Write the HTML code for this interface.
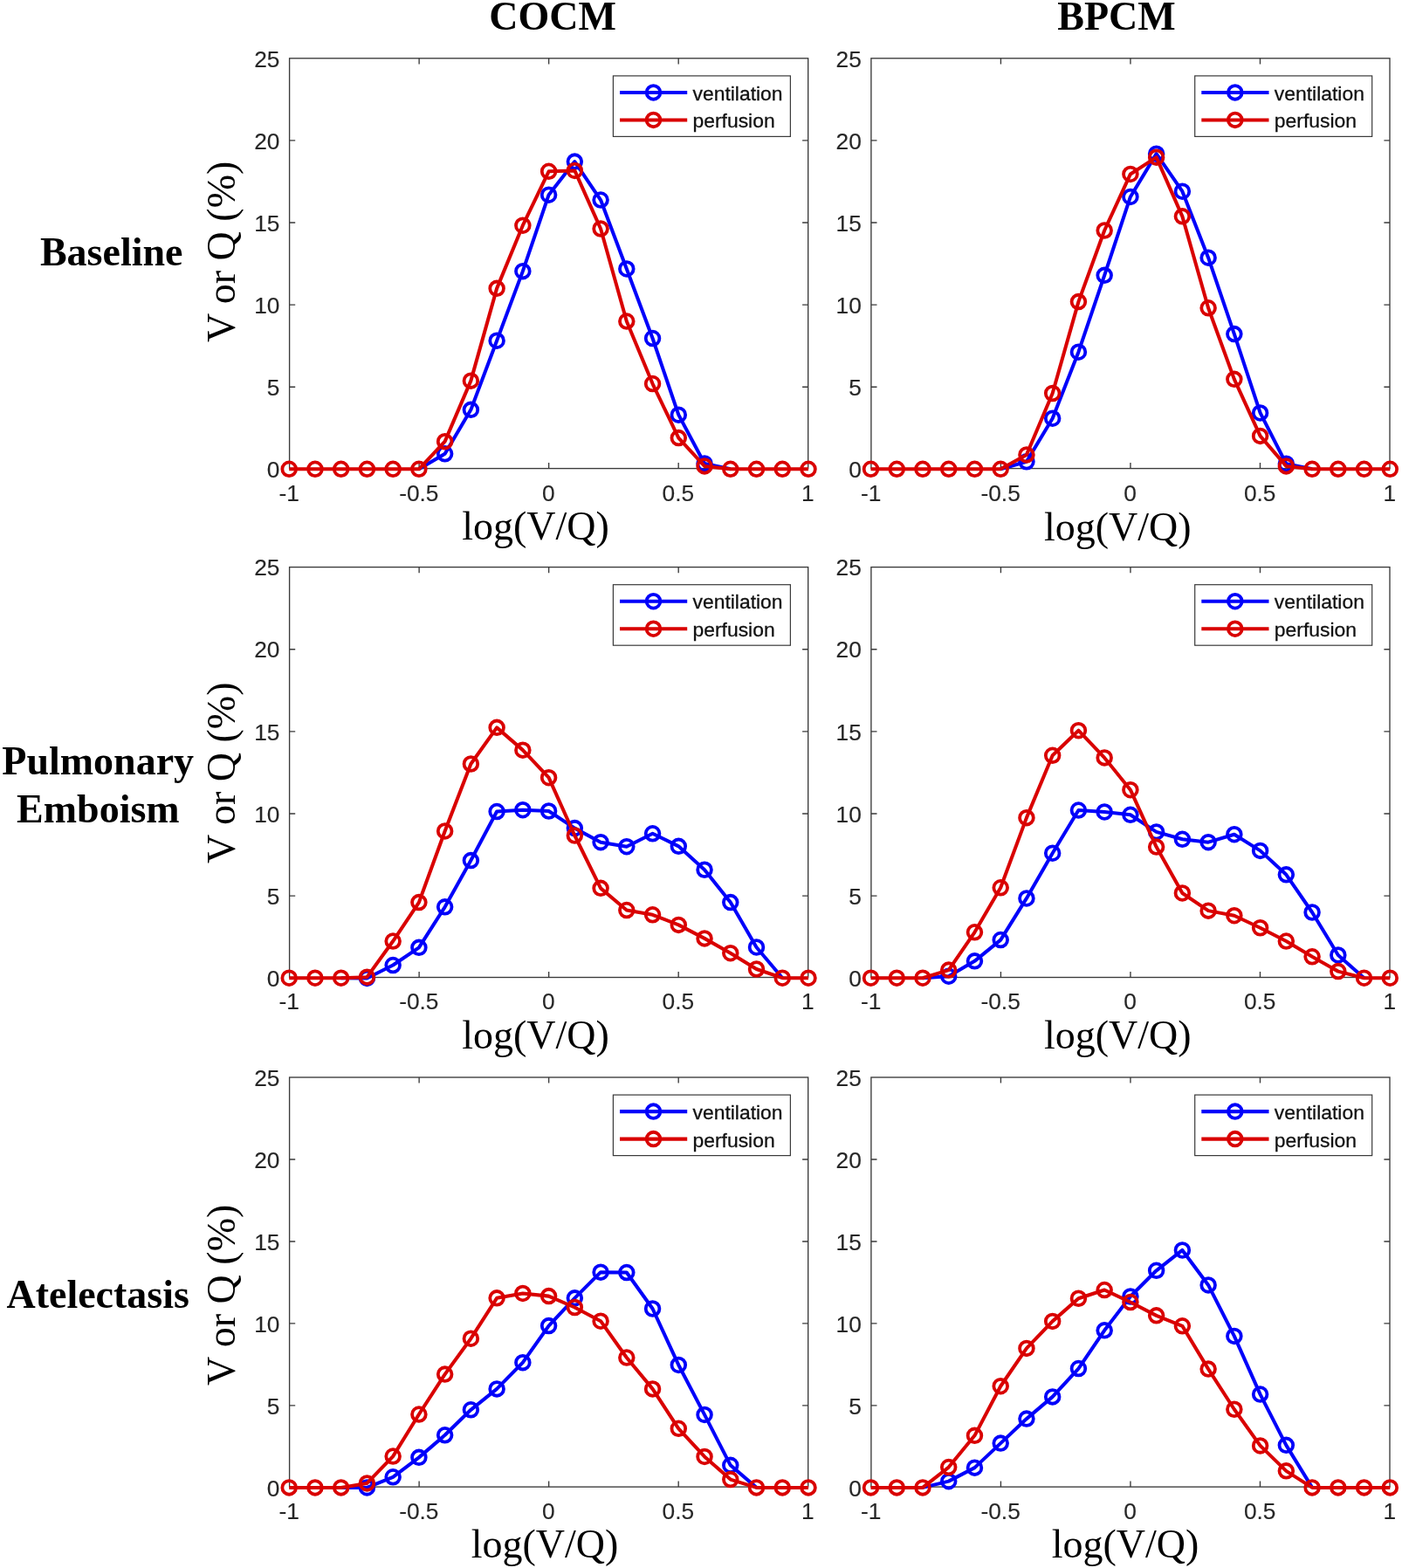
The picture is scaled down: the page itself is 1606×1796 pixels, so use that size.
<!DOCTYPE html>
<html lang="en"><head><meta charset="utf-8"><title>V/Q distributions: COCM vs BPCM</title>
<style>
html,body{margin:0;padding:0;background:#fff;}
body{width:1606px;height:1796px;overflow:hidden;}
svg{display:block;}
.tk{font-family:"Liberation Sans",Arial,Helvetica,sans-serif;font-size:26.3px;fill:#262626;stroke:#262626;stroke-width:0.15px;}
.lg{font-family:"Liberation Sans",Arial,Helvetica,sans-serif;font-size:22.9px;fill:#111;stroke:#111;stroke-width:0.3px;}
.sr{font-family:"Liberation Serif","Times New Roman",Times,serif;font-size:46px;fill:#000;}
.sb{font-family:"Liberation Serif","Times New Roman",Times,serif;font-size:46px;font-weight:bold;fill:#000;}
.ax{fill:none;stroke:#3a3a3a;stroke-width:1.35;}
.bl{fill:none;stroke:#0000fa;stroke-width:4.05;stroke-linejoin:round;stroke-linecap:butt;}
.rl{fill:none;stroke:#d90000;stroke-width:4.05;stroke-linejoin:round;stroke-linecap:butt;}
.bm circle{fill:none;stroke:#0000fa;stroke-width:3.8;}
.rm circle{fill:none;stroke:#d90000;stroke-width:3.8;}
</style></head><body>
<svg width="1606" height="1796" viewBox="0 0 1606 1796" role="img" aria-label="Ventilation and perfusion distributions versus log(V/Q) for COCM and BPCM">
<rect x="0" y="0" width="1606" height="1796" fill="#fff"/>
<text class="sb" x="633.1" y="34.2" text-anchor="middle">COCM</text>
<text class="sb" x="1279" y="34.2" text-anchor="middle">BPCM</text>
<text class="sb" x="127.7" y="304.4" text-anchor="middle">Baseline</text>
<text class="sr" transform="translate(268.9 288.4) rotate(-90)" text-anchor="middle">V or Q (%)</text>
<text class="sb" x="112.2" y="886.5" text-anchor="middle">Pulmonary</text>
<text class="sb" x="112.4" y="942.2" text-anchor="middle">Emboism</text>
<text class="sr" transform="translate(268.9 885.2) rotate(-90)" text-anchor="middle">V or Q (%)</text>
<text class="sb" x="112.2" y="1497.7" text-anchor="middle">Atelectasis</text>
<text class="sr" transform="translate(268.9 1483.4) rotate(-90)" text-anchor="middle">V or Q (%)</text>
<g>
<rect class="ax" x="331.6" y="66.8" width="594.1" height="469.8"/>
<path class="ax" d="M480.12 536.6v-6.6M480.12 66.8v6.6M628.65 536.6v-6.6M628.65 66.8v6.6M777.18 536.6v-6.6M777.18 66.8v6.6M331.6 443.2h6.6M925.7 443.2h-6.6M331.6 349.1h6.6M925.7 349.1h-6.6M331.6 255h6.6M925.7 255h-6.6M331.6 160.9h6.6M925.7 160.9h-6.6"/>
<text class="tk" x="331.3" y="573.9" text-anchor="middle">-1</text>
<text class="tk" x="479.82" y="573.9" text-anchor="middle">-0.5</text>
<text class="tk" x="628.35" y="573.9" text-anchor="middle">0</text>
<text class="tk" x="776.88" y="573.9" text-anchor="middle">0.5</text>
<text class="tk" x="925.4" y="573.9" text-anchor="middle">1</text>
<text class="tk" x="320.5" y="547" text-anchor="end">0</text>
<text class="tk" x="320.5" y="452.9" text-anchor="end">5</text>
<text class="tk" x="320.5" y="358.8" text-anchor="end">10</text>
<text class="tk" x="320.5" y="264.7" text-anchor="end">15</text>
<text class="tk" x="320.5" y="170.6" text-anchor="end">20</text>
<text class="tk" x="320.5" y="76.5" text-anchor="end">25</text>
<text class="sr" x="613.6" y="617.8" text-anchor="middle">log(V/Q)</text>
<path class="bl" d="M479.9 537.3L509.64 519.78L539.38 469.34L569.12 390.21L598.86 310.64L628.6 223.21L658.34 185.11L688.08 229.04L717.82 307.95L747.56 387.52L777.3 475.17L807.04 530.98L836.78 537.3"/>
<g class="bm"><circle cx="509.64" cy="519.78" r="7.85"/><circle cx="539.38" cy="469.34" r="7.85"/><circle cx="569.12" cy="390.21" r="7.85"/><circle cx="598.86" cy="310.64" r="7.85"/><circle cx="628.6" cy="223.21" r="7.85"/><circle cx="658.34" cy="185.11" r="7.85"/><circle cx="688.08" cy="229.04" r="7.85"/><circle cx="717.82" cy="307.95" r="7.85"/><circle cx="747.56" cy="387.52" r="7.85"/><circle cx="777.3" cy="475.17" r="7.85"/><circle cx="807.04" cy="530.98" r="7.85"/></g>
<polyline class="rl" points="331.2,537.3 360.94,537.3 390.68,537.3 420.42,537.3 450.16,537.3 479.9,537.3 509.64,505.65 539.38,436.16 569.12,330.36 598.86,258.18 628.6,196.31 658.34,195.42 688.08,261.99 717.82,368.02 747.56,439.53 777.3,501.62 807.04,533.9 836.78,537.3 866.52,537.3 896.26,537.3 926,537.3"/>
<g class="rm"><circle cx="331.2" cy="537.3" r="7.85"/><circle cx="360.94" cy="537.3" r="7.85"/><circle cx="390.68" cy="537.3" r="7.85"/><circle cx="420.42" cy="537.3" r="7.85"/><circle cx="450.16" cy="537.3" r="7.85"/><circle cx="479.9" cy="537.3" r="7.85"/><circle cx="509.64" cy="505.65" r="7.85"/><circle cx="539.38" cy="436.16" r="7.85"/><circle cx="569.12" cy="330.36" r="7.85"/><circle cx="598.86" cy="258.18" r="7.85"/><circle cx="628.6" cy="196.31" r="7.85"/><circle cx="658.34" cy="195.42" r="7.85"/><circle cx="688.08" cy="261.99" r="7.85"/><circle cx="717.82" cy="368.02" r="7.85"/><circle cx="747.56" cy="439.53" r="7.85"/><circle cx="777.3" cy="501.62" r="7.85"/><circle cx="807.04" cy="533.9" r="7.85"/><circle cx="836.78" cy="537.3" r="7.85"/><circle cx="866.52" cy="537.3" r="7.85"/><circle cx="896.26" cy="537.3" r="7.85"/><circle cx="926" cy="537.3" r="7.85"/></g>
<rect x="702.4" y="86.9" width="203" height="69.5" fill="#fff" stroke="#3a3a3a" stroke-width="1.2"/>
<path class="bl" d="M710 105.9H787.2"/>
<g class="bm"><circle cx="748.5" cy="105.9" r="7.85"/></g>
<text class="lg" x="793.5" y="114.5">ventilation</text>
<path class="rl" d="M710 137.4H787.2"/>
<g class="rm"><circle cx="748.5" cy="137.4" r="7.85"/></g>
<text class="lg" x="793.5" y="146.4">perfusion</text>
</g>
<g>
<rect class="ax" x="997.9" y="66.8" width="594.1" height="469.8"/>
<path class="ax" d="M1146.42 536.6v-6.6M1146.42 66.8v6.6M1294.95 536.6v-6.6M1294.95 66.8v6.6M1443.47 536.6v-6.6M1443.47 66.8v6.6M997.9 443.2h6.6M1592 443.2h-6.6M997.9 349.1h6.6M1592 349.1h-6.6M997.9 255h6.6M1592 255h-6.6M997.9 160.9h6.6M1592 160.9h-6.6"/>
<text class="tk" x="997.6" y="573.9" text-anchor="middle">-1</text>
<text class="tk" x="1146.12" y="573.9" text-anchor="middle">-0.5</text>
<text class="tk" x="1294.65" y="573.9" text-anchor="middle">0</text>
<text class="tk" x="1443.17" y="573.9" text-anchor="middle">0.5</text>
<text class="tk" x="1591.7" y="573.9" text-anchor="middle">1</text>
<text class="tk" x="986.8" y="547" text-anchor="end">0</text>
<text class="tk" x="986.8" y="452.9" text-anchor="end">5</text>
<text class="tk" x="986.8" y="358.8" text-anchor="end">10</text>
<text class="tk" x="986.8" y="264.7" text-anchor="end">15</text>
<text class="tk" x="986.8" y="170.6" text-anchor="end">20</text>
<text class="tk" x="986.8" y="76.5" text-anchor="end">25</text>
<text class="sr" x="1280.2" y="618.6" text-anchor="middle">log(V/Q)</text>
<path class="bl" d="M1146.2 537.3L1175.94 528.74L1205.68 479.2L1235.42 403.21L1265.16 315.34L1294.9 225.45L1324.64 176.14L1354.38 219.18L1384.12 295.17L1413.86 382.59L1443.6 472.93L1473.34 531.21L1503.08 537.3"/>
<g class="bm"><circle cx="1175.94" cy="528.74" r="7.85"/><circle cx="1205.68" cy="479.2" r="7.85"/><circle cx="1235.42" cy="403.21" r="7.85"/><circle cx="1265.16" cy="315.34" r="7.85"/><circle cx="1294.9" cy="225.45" r="7.85"/><circle cx="1324.64" cy="176.14" r="7.85"/><circle cx="1354.38" cy="219.18" r="7.85"/><circle cx="1384.12" cy="295.17" r="7.85"/><circle cx="1413.86" cy="382.59" r="7.85"/><circle cx="1443.6" cy="472.93" r="7.85"/><circle cx="1473.34" cy="531.21" r="7.85"/></g>
<polyline class="rl" points="997.5,537.3 1027.24,537.3 1056.98,537.3 1086.72,537.3 1116.46,537.3 1146.2,537.3 1175.94,520.9 1205.68,450.51 1235.42,345.6 1265.16,264.01 1294.9,199.45 1324.64,180.17 1354.38,247.87 1384.12,352.78 1413.86,434.37 1443.6,499.38 1473.34,533.9 1503.08,537.3 1532.82,537.3 1562.56,537.3 1592.3,537.3"/>
<g class="rm"><circle cx="997.5" cy="537.3" r="7.85"/><circle cx="1027.24" cy="537.3" r="7.85"/><circle cx="1056.98" cy="537.3" r="7.85"/><circle cx="1086.72" cy="537.3" r="7.85"/><circle cx="1116.46" cy="537.3" r="7.85"/><circle cx="1146.2" cy="537.3" r="7.85"/><circle cx="1175.94" cy="520.9" r="7.85"/><circle cx="1205.68" cy="450.51" r="7.85"/><circle cx="1235.42" cy="345.6" r="7.85"/><circle cx="1265.16" cy="264.01" r="7.85"/><circle cx="1294.9" cy="199.45" r="7.85"/><circle cx="1324.64" cy="180.17" r="7.85"/><circle cx="1354.38" cy="247.87" r="7.85"/><circle cx="1384.12" cy="352.78" r="7.85"/><circle cx="1413.86" cy="434.37" r="7.85"/><circle cx="1443.6" cy="499.38" r="7.85"/><circle cx="1473.34" cy="533.9" r="7.85"/><circle cx="1503.08" cy="537.3" r="7.85"/><circle cx="1532.82" cy="537.3" r="7.85"/><circle cx="1562.56" cy="537.3" r="7.85"/><circle cx="1592.3" cy="537.3" r="7.85"/></g>
<rect x="1368.7" y="86.9" width="203" height="69.5" fill="#fff" stroke="#3a3a3a" stroke-width="1.2"/>
<path class="bl" d="M1376.3 105.9H1453.5"/>
<g class="bm"><circle cx="1414.8" cy="105.9" r="7.85"/></g>
<text class="lg" x="1459.8" y="114.5">ventilation</text>
<path class="rl" d="M1376.3 137.4H1453.5"/>
<g class="rm"><circle cx="1414.8" cy="137.4" r="7.85"/></g>
<text class="lg" x="1459.8" y="146.4">perfusion</text>
</g>
<g>
<rect class="ax" x="331.6" y="649.6" width="594.1" height="469.9"/>
<path class="ax" d="M480.12 1119.5v-6.6M480.12 649.6v6.6M628.65 1119.5v-6.6M628.65 649.6v6.6M777.18 1119.5v-6.6M777.18 649.6v6.6M331.6 1026.08h6.6M925.7 1026.08h-6.6M331.6 931.96h6.6M925.7 931.96h-6.6M331.6 837.84h6.6M925.7 837.84h-6.6M331.6 743.72h6.6M925.7 743.72h-6.6"/>
<text class="tk" x="331.3" y="1156.3" text-anchor="middle">-1</text>
<text class="tk" x="479.82" y="1156.3" text-anchor="middle">-0.5</text>
<text class="tk" x="628.35" y="1156.3" text-anchor="middle">0</text>
<text class="tk" x="776.88" y="1156.3" text-anchor="middle">0.5</text>
<text class="tk" x="925.4" y="1156.3" text-anchor="middle">1</text>
<text class="tk" x="320.5" y="1129.9" text-anchor="end">0</text>
<text class="tk" x="320.5" y="1035.78" text-anchor="end">5</text>
<text class="tk" x="320.5" y="941.66" text-anchor="end">10</text>
<text class="tk" x="320.5" y="847.54" text-anchor="end">15</text>
<text class="tk" x="320.5" y="753.42" text-anchor="end">20</text>
<text class="tk" x="320.5" y="659.3" text-anchor="end">25</text>
<text class="sr" x="613.6" y="1201" text-anchor="middle">log(V/Q)</text>
<path class="bl" d="M390.68 1120.2L420.42 1120.46L450.16 1105.52L479.9 1085.34L509.64 1038.83L539.38 985.59L569.12 929.55L598.86 927.68L628.6 928.99L658.34 948.61L688.08 964.67L717.82 969.71L747.56 954.77L777.3 969.34L807.04 996.24L836.78 1033.6L866.52 1084.97L896.26 1120.2"/>
<g class="bm"><circle cx="420.42" cy="1120.46" r="7.85"/><circle cx="450.16" cy="1105.52" r="7.85"/><circle cx="479.9" cy="1085.34" r="7.85"/><circle cx="509.64" cy="1038.83" r="7.85"/><circle cx="539.38" cy="985.59" r="7.85"/><circle cx="569.12" cy="929.55" r="7.85"/><circle cx="598.86" cy="927.68" r="7.85"/><circle cx="628.6" cy="928.99" r="7.85"/><circle cx="658.34" cy="948.61" r="7.85"/><circle cx="688.08" cy="964.67" r="7.85"/><circle cx="717.82" cy="969.71" r="7.85"/><circle cx="747.56" cy="954.77" r="7.85"/><circle cx="777.3" cy="969.34" r="7.85"/><circle cx="807.04" cy="996.24" r="7.85"/><circle cx="836.78" cy="1033.6" r="7.85"/><circle cx="866.52" cy="1084.97" r="7.85"/></g>
<polyline class="rl" points="331.2,1120.2 360.94,1120.2 390.68,1120.2 420.42,1119.15 450.16,1078.06 479.9,1033.6 509.64,951.97 539.38,875.01 569.12,833.35 598.86,859.13 628.6,890.7 658.34,957.01 688.08,1017.35 717.82,1042.57 747.56,1047.8 777.3,1059.38 807.04,1074.88 836.78,1091.69 866.52,1110 896.26,1120.2 926,1120.2"/>
<g class="rm"><circle cx="331.2" cy="1120.2" r="7.85"/><circle cx="360.94" cy="1120.2" r="7.85"/><circle cx="390.68" cy="1120.2" r="7.85"/><circle cx="420.42" cy="1119.15" r="7.85"/><circle cx="450.16" cy="1078.06" r="7.85"/><circle cx="479.9" cy="1033.6" r="7.85"/><circle cx="509.64" cy="951.97" r="7.85"/><circle cx="539.38" cy="875.01" r="7.85"/><circle cx="569.12" cy="833.35" r="7.85"/><circle cx="598.86" cy="859.13" r="7.85"/><circle cx="628.6" cy="890.7" r="7.85"/><circle cx="658.34" cy="957.01" r="7.85"/><circle cx="688.08" cy="1017.35" r="7.85"/><circle cx="717.82" cy="1042.57" r="7.85"/><circle cx="747.56" cy="1047.8" r="7.85"/><circle cx="777.3" cy="1059.38" r="7.85"/><circle cx="807.04" cy="1074.88" r="7.85"/><circle cx="836.78" cy="1091.69" r="7.85"/><circle cx="866.52" cy="1110" r="7.85"/><circle cx="896.26" cy="1120.2" r="7.85"/><circle cx="926" cy="1120.2" r="7.85"/></g>
<rect x="702.4" y="669.7" width="203" height="69.5" fill="#fff" stroke="#3a3a3a" stroke-width="1.2"/>
<path class="bl" d="M710 688.7H787.2"/>
<g class="bm"><circle cx="748.5" cy="688.7" r="7.85"/></g>
<text class="lg" x="793.5" y="697.3">ventilation</text>
<path class="rl" d="M710 720.2H787.2"/>
<g class="rm"><circle cx="748.5" cy="720.2" r="7.85"/></g>
<text class="lg" x="793.5" y="729.2">perfusion</text>
</g>
<g>
<rect class="ax" x="997.9" y="649.6" width="594.1" height="469.9"/>
<path class="ax" d="M1146.42 1119.5v-6.6M1146.42 649.6v6.6M1294.95 1119.5v-6.6M1294.95 649.6v6.6M1443.47 1119.5v-6.6M1443.47 649.6v6.6M997.9 1026.08h6.6M1592 1026.08h-6.6M997.9 931.96h6.6M1592 931.96h-6.6M997.9 837.84h6.6M1592 837.84h-6.6M997.9 743.72h6.6M1592 743.72h-6.6"/>
<text class="tk" x="997.6" y="1156.3" text-anchor="middle">-1</text>
<text class="tk" x="1146.12" y="1156.3" text-anchor="middle">-0.5</text>
<text class="tk" x="1294.65" y="1156.3" text-anchor="middle">0</text>
<text class="tk" x="1443.17" y="1156.3" text-anchor="middle">0.5</text>
<text class="tk" x="1591.7" y="1156.3" text-anchor="middle">1</text>
<text class="tk" x="986.8" y="1129.9" text-anchor="end">0</text>
<text class="tk" x="986.8" y="1035.78" text-anchor="end">5</text>
<text class="tk" x="986.8" y="941.66" text-anchor="end">10</text>
<text class="tk" x="986.8" y="847.54" text-anchor="end">15</text>
<text class="tk" x="986.8" y="753.42" text-anchor="end">20</text>
<text class="tk" x="986.8" y="659.3" text-anchor="end">25</text>
<text class="sr" x="1280.2" y="1201" text-anchor="middle">log(V/Q)</text>
<path class="bl" d="M1056.98 1120.2L1086.72 1118.22L1116.46 1100.85L1146.2 1076.56L1175.94 1028.93L1205.68 977.19L1235.42 928.06L1265.16 929.93L1294.9 933.29L1324.64 952.9L1354.38 961.31L1384.12 964.67L1413.86 955.7L1443.6 974.38L1473.34 1001.84L1503.08 1044.99L1532.82 1093.94L1562.56 1120.2"/>
<g class="bm"><circle cx="1086.72" cy="1118.22" r="7.85"/><circle cx="1116.46" cy="1100.85" r="7.85"/><circle cx="1146.2" cy="1076.56" r="7.85"/><circle cx="1175.94" cy="1028.93" r="7.85"/><circle cx="1205.68" cy="977.19" r="7.85"/><circle cx="1235.42" cy="928.06" r="7.85"/><circle cx="1265.16" cy="929.93" r="7.85"/><circle cx="1294.9" cy="933.29" r="7.85"/><circle cx="1324.64" cy="952.9" r="7.85"/><circle cx="1354.38" cy="961.31" r="7.85"/><circle cx="1384.12" cy="964.67" r="7.85"/><circle cx="1413.86" cy="955.7" r="7.85"/><circle cx="1443.6" cy="974.38" r="7.85"/><circle cx="1473.34" cy="1001.84" r="7.85"/><circle cx="1503.08" cy="1044.99" r="7.85"/><circle cx="1532.82" cy="1093.94" r="7.85"/></g>
<polyline class="rl" points="997.5,1120.2 1027.24,1120.2 1056.98,1120.2 1086.72,1111.12 1116.46,1067.78 1146.2,1016.79 1175.94,936.65 1205.68,865.29 1235.42,836.71 1265.16,867.91 1294.9,904.71 1324.64,970.09 1354.38,1022.95 1384.12,1043.13 1413.86,1048.73 1443.6,1062.74 1473.34,1078.06 1503.08,1095.8 1532.82,1112.62 1562.56,1120.2 1592.3,1120.2"/>
<g class="rm"><circle cx="997.5" cy="1120.2" r="7.85"/><circle cx="1027.24" cy="1120.2" r="7.85"/><circle cx="1056.98" cy="1120.2" r="7.85"/><circle cx="1086.72" cy="1111.12" r="7.85"/><circle cx="1116.46" cy="1067.78" r="7.85"/><circle cx="1146.2" cy="1016.79" r="7.85"/><circle cx="1175.94" cy="936.65" r="7.85"/><circle cx="1205.68" cy="865.29" r="7.85"/><circle cx="1235.42" cy="836.71" r="7.85"/><circle cx="1265.16" cy="867.91" r="7.85"/><circle cx="1294.9" cy="904.71" r="7.85"/><circle cx="1324.64" cy="970.09" r="7.85"/><circle cx="1354.38" cy="1022.95" r="7.85"/><circle cx="1384.12" cy="1043.13" r="7.85"/><circle cx="1413.86" cy="1048.73" r="7.85"/><circle cx="1443.6" cy="1062.74" r="7.85"/><circle cx="1473.34" cy="1078.06" r="7.85"/><circle cx="1503.08" cy="1095.8" r="7.85"/><circle cx="1532.82" cy="1112.62" r="7.85"/><circle cx="1562.56" cy="1120.2" r="7.85"/><circle cx="1592.3" cy="1120.2" r="7.85"/></g>
<rect x="1368.7" y="669.7" width="203" height="69.5" fill="#fff" stroke="#3a3a3a" stroke-width="1.2"/>
<path class="bl" d="M1376.3 688.7H1453.5"/>
<g class="bm"><circle cx="1414.8" cy="688.7" r="7.85"/></g>
<text class="lg" x="1459.8" y="697.3">ventilation</text>
<path class="rl" d="M1376.3 720.2H1453.5"/>
<g class="rm"><circle cx="1414.8" cy="720.2" r="7.85"/></g>
<text class="lg" x="1459.8" y="729.2">perfusion</text>
</g>
<g>
<rect class="ax" x="331.6" y="1234" width="594.1" height="469.1"/>
<path class="ax" d="M480.12 1703.1v-6.6M480.12 1234v6.6M628.65 1703.1v-6.6M628.65 1234v6.6M777.18 1703.1v-6.6M777.18 1234v6.6M331.6 1609.92h6.6M925.7 1609.92h-6.6M331.6 1515.94h6.6M925.7 1515.94h-6.6M331.6 1421.96h6.6M925.7 1421.96h-6.6M331.6 1327.98h6.6M925.7 1327.98h-6.6"/>
<text class="tk" x="331.3" y="1739.6" text-anchor="middle">-1</text>
<text class="tk" x="479.82" y="1739.6" text-anchor="middle">-0.5</text>
<text class="tk" x="628.35" y="1739.6" text-anchor="middle">0</text>
<text class="tk" x="776.88" y="1739.6" text-anchor="middle">0.5</text>
<text class="tk" x="925.4" y="1739.6" text-anchor="middle">1</text>
<text class="tk" x="320.5" y="1713.6" text-anchor="end">0</text>
<text class="tk" x="320.5" y="1619.62" text-anchor="end">5</text>
<text class="tk" x="320.5" y="1525.64" text-anchor="end">10</text>
<text class="tk" x="320.5" y="1431.66" text-anchor="end">15</text>
<text class="tk" x="320.5" y="1337.68" text-anchor="end">20</text>
<text class="tk" x="320.5" y="1243.7" text-anchor="end">25</text>
<text class="sr" x="624.1" y="1784" text-anchor="middle">log(V/Q)</text>
<path class="bl" d="M390.68 1703.9L420.42 1703.92L450.16 1691.78L479.9 1669.36L509.64 1643.77L539.38 1614.82L569.12 1590.91L598.86 1560.65L628.6 1518.62L658.34 1486.86L688.08 1457.16L717.82 1457.53L747.56 1499L777.3 1563.45L807.04 1620.42L836.78 1678.33L866.52 1703.9"/>
<g class="bm"><circle cx="420.42" cy="1703.92" r="7.85"/><circle cx="450.16" cy="1691.78" r="7.85"/><circle cx="479.9" cy="1669.36" r="7.85"/><circle cx="509.64" cy="1643.77" r="7.85"/><circle cx="539.38" cy="1614.82" r="7.85"/><circle cx="569.12" cy="1590.91" r="7.85"/><circle cx="598.86" cy="1560.65" r="7.85"/><circle cx="628.6" cy="1518.62" r="7.85"/><circle cx="658.34" cy="1486.86" r="7.85"/><circle cx="688.08" cy="1457.16" r="7.85"/><circle cx="717.82" cy="1457.53" r="7.85"/><circle cx="747.56" cy="1499" r="7.85"/><circle cx="777.3" cy="1563.45" r="7.85"/><circle cx="807.04" cy="1620.42" r="7.85"/><circle cx="836.78" cy="1678.33" r="7.85"/></g>
<polyline class="rl" points="331.2,1703.9 360.94,1703.9 390.68,1703.9 420.42,1698.88 450.16,1668.06 479.9,1620.05 509.64,1574.1 539.38,1533.19 569.12,1486.86 598.86,1481.44 628.6,1484.62 658.34,1497.51 688.08,1513.2 717.82,1555.04 747.56,1590.91 777.3,1636.3 807.04,1668.43 836.78,1694.58 866.52,1703.9 896.26,1703.9 926,1703.9"/>
<g class="rm"><circle cx="331.2" cy="1703.9" r="7.85"/><circle cx="360.94" cy="1703.9" r="7.85"/><circle cx="390.68" cy="1703.9" r="7.85"/><circle cx="420.42" cy="1698.88" r="7.85"/><circle cx="450.16" cy="1668.06" r="7.85"/><circle cx="479.9" cy="1620.05" r="7.85"/><circle cx="509.64" cy="1574.1" r="7.85"/><circle cx="539.38" cy="1533.19" r="7.85"/><circle cx="569.12" cy="1486.86" r="7.85"/><circle cx="598.86" cy="1481.44" r="7.85"/><circle cx="628.6" cy="1484.62" r="7.85"/><circle cx="658.34" cy="1497.51" r="7.85"/><circle cx="688.08" cy="1513.2" r="7.85"/><circle cx="717.82" cy="1555.04" r="7.85"/><circle cx="747.56" cy="1590.91" r="7.85"/><circle cx="777.3" cy="1636.3" r="7.85"/><circle cx="807.04" cy="1668.43" r="7.85"/><circle cx="836.78" cy="1694.58" r="7.85"/><circle cx="866.52" cy="1703.9" r="7.85"/><circle cx="896.26" cy="1703.9" r="7.85"/><circle cx="926" cy="1703.9" r="7.85"/></g>
<rect x="702.4" y="1254.1" width="203" height="69.5" fill="#fff" stroke="#3a3a3a" stroke-width="1.2"/>
<path class="bl" d="M710 1273.1H787.2"/>
<g class="bm"><circle cx="748.5" cy="1273.1" r="7.85"/></g>
<text class="lg" x="793.5" y="1281.7">ventilation</text>
<path class="rl" d="M710 1304.6H787.2"/>
<g class="rm"><circle cx="748.5" cy="1304.6" r="7.85"/></g>
<text class="lg" x="793.5" y="1313.6">perfusion</text>
</g>
<g>
<rect class="ax" x="997.9" y="1234" width="594.1" height="469.1"/>
<path class="ax" d="M1146.42 1703.1v-6.6M1146.42 1234v6.6M1294.95 1703.1v-6.6M1294.95 1234v6.6M1443.47 1703.1v-6.6M1443.47 1234v6.6M997.9 1609.92h6.6M1592 1609.92h-6.6M997.9 1515.94h6.6M1592 1515.94h-6.6M997.9 1421.96h6.6M1592 1421.96h-6.6M997.9 1327.98h6.6M1592 1327.98h-6.6"/>
<text class="tk" x="997.6" y="1739.6" text-anchor="middle">-1</text>
<text class="tk" x="1146.12" y="1739.6" text-anchor="middle">-0.5</text>
<text class="tk" x="1294.65" y="1739.6" text-anchor="middle">0</text>
<text class="tk" x="1443.17" y="1739.6" text-anchor="middle">0.5</text>
<text class="tk" x="1591.7" y="1739.6" text-anchor="middle">1</text>
<text class="tk" x="986.8" y="1713.6" text-anchor="end">0</text>
<text class="tk" x="986.8" y="1619.62" text-anchor="end">5</text>
<text class="tk" x="986.8" y="1525.64" text-anchor="end">10</text>
<text class="tk" x="986.8" y="1431.66" text-anchor="end">15</text>
<text class="tk" x="986.8" y="1337.68" text-anchor="end">20</text>
<text class="tk" x="986.8" y="1243.7" text-anchor="end">25</text>
<text class="sr" x="1289" y="1784" text-anchor="middle">log(V/Q)</text>
<path class="bl" d="M1056.98 1703.9L1086.72 1696.64L1116.46 1681.13L1146.2 1653.11L1175.94 1625.09L1205.68 1599.88L1235.42 1567.56L1265.16 1523.85L1294.9 1484.99L1324.64 1455.29L1354.38 1431.94L1384.12 1471.92L1413.86 1530.39L1443.6 1597.07L1473.34 1655.35L1503.08 1703.9"/>
<g class="bm"><circle cx="1086.72" cy="1696.64" r="7.85"/><circle cx="1116.46" cy="1681.13" r="7.85"/><circle cx="1146.2" cy="1653.11" r="7.85"/><circle cx="1175.94" cy="1625.09" r="7.85"/><circle cx="1205.68" cy="1599.88" r="7.85"/><circle cx="1235.42" cy="1567.56" r="7.85"/><circle cx="1265.16" cy="1523.85" r="7.85"/><circle cx="1294.9" cy="1484.99" r="7.85"/><circle cx="1324.64" cy="1455.29" r="7.85"/><circle cx="1354.38" cy="1431.94" r="7.85"/><circle cx="1384.12" cy="1471.92" r="7.85"/><circle cx="1413.86" cy="1530.39" r="7.85"/><circle cx="1443.6" cy="1597.07" r="7.85"/><circle cx="1473.34" cy="1655.35" r="7.85"/></g>
<polyline class="rl" points="997.5,1703.9 1027.24,1703.9 1056.98,1703.9 1086.72,1680.57 1116.46,1644.33 1146.2,1587.73 1175.94,1544.4 1205.68,1513.39 1235.42,1487.24 1265.16,1477.52 1294.9,1491.53 1324.64,1506.85 1354.38,1518.8 1384.12,1568.12 1413.86,1614.26 1443.6,1655.92 1473.34,1684.87 1503.08,1703.9 1532.82,1703.9 1562.56,1703.9 1592.3,1703.9"/>
<g class="rm"><circle cx="997.5" cy="1703.9" r="7.85"/><circle cx="1027.24" cy="1703.9" r="7.85"/><circle cx="1056.98" cy="1703.9" r="7.85"/><circle cx="1086.72" cy="1680.57" r="7.85"/><circle cx="1116.46" cy="1644.33" r="7.85"/><circle cx="1146.2" cy="1587.73" r="7.85"/><circle cx="1175.94" cy="1544.4" r="7.85"/><circle cx="1205.68" cy="1513.39" r="7.85"/><circle cx="1235.42" cy="1487.24" r="7.85"/><circle cx="1265.16" cy="1477.52" r="7.85"/><circle cx="1294.9" cy="1491.53" r="7.85"/><circle cx="1324.64" cy="1506.85" r="7.85"/><circle cx="1354.38" cy="1518.8" r="7.85"/><circle cx="1384.12" cy="1568.12" r="7.85"/><circle cx="1413.86" cy="1614.26" r="7.85"/><circle cx="1443.6" cy="1655.92" r="7.85"/><circle cx="1473.34" cy="1684.87" r="7.85"/><circle cx="1503.08" cy="1703.9" r="7.85"/><circle cx="1532.82" cy="1703.9" r="7.85"/><circle cx="1562.56" cy="1703.9" r="7.85"/><circle cx="1592.3" cy="1703.9" r="7.85"/></g>
<rect x="1368.7" y="1254.1" width="203" height="69.5" fill="#fff" stroke="#3a3a3a" stroke-width="1.2"/>
<path class="bl" d="M1376.3 1273.1H1453.5"/>
<g class="bm"><circle cx="1414.8" cy="1273.1" r="7.85"/></g>
<text class="lg" x="1459.8" y="1281.7">ventilation</text>
<path class="rl" d="M1376.3 1304.6H1453.5"/>
<g class="rm"><circle cx="1414.8" cy="1304.6" r="7.85"/></g>
<text class="lg" x="1459.8" y="1313.6">perfusion</text>
</g>
</svg>
</body></html>
